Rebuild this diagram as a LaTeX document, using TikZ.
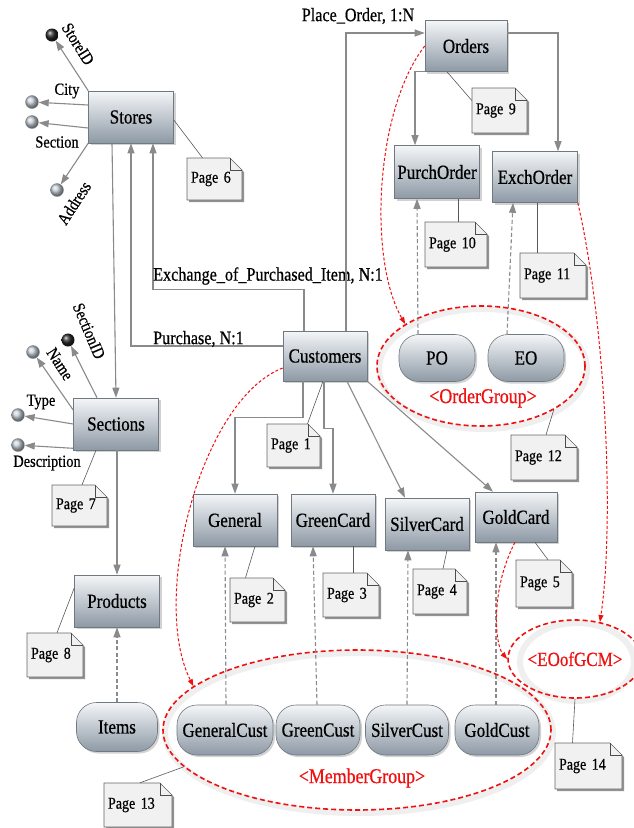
\documentclass[tikz,border=0pt]{standalone}
\usepackage{fontspec}
\setmainfont{Liberation Serif}[FakeStretch=0.85,FakeBold=0.6]
\usetikzlibrary{shapes.geometric,shadows,arrows.meta}
\definecolor{boxtop}{HTML}{F4F6F8}
\definecolor{boxbot}{HTML}{8D99A5}
\definecolor{boxline}{HTML}{707880}
\definecolor{conn}{HTML}{8A8A8A}
\definecolor{notefill}{HTML}{F1F1F1}
\definecolor{redc}{HTML}{F01010}
\definecolor{attrfill}{HTML}{C4CDD6}
\tikzset{
 ebox/.style={rectangle, draw=boxline, line width=0.6pt, top color=boxtop, bottom color=boxbot,
   minimum width=84pt, minimum height=52pt, inner sep=2pt, font=\fontsize{20}{22}\selectfont,
   drop shadow={opacity=0.35, shadow xshift=2pt, shadow yshift=-2pt}},
 pill/.style={ebox, rounded corners=20pt, minimum height=50pt},
 attrc/.style={circle, minimum size=13pt, inner sep=0pt, draw=conn, shading=ball, ball color=attrfill},
 attrd/.style={circle, minimum size=13pt, inner sep=0pt, shading=ball, ball color=black!85},
 cline/.style={draw=conn, line width=1.1pt},
 carr/.style={cline, -{Triangle[length=10pt,width=7pt]}},
 dcarr/.style={carr, dash pattern=on 4pt off 2.5pt},
 nline/.style={draw=black!65, line width=0.6pt},
 redell/.style={ellipse, draw=redc, line width=1.6pt, dash pattern=on 5pt off 3pt, inner sep=0pt},
 redarr/.style={draw=redc, line width=1pt, dash pattern=on 3pt off 2pt, -{Triangle[length=7pt,width=5pt]}},
 lbl/.style={font=\fontsize{19}{21}\selectfont, inner sep=0pt},
 albl/.style={font=\fontsize{17}{19}\selectfont, inner sep=0pt},
 rlbl/.style={text=redc, font=\fontsize{21}{23}\selectfont, inner sep=0pt},
 notetext/.style={rectangle, inner xsep=4pt, inner ysep=2pt, align=left, font=\fontsize{16.5}{18}\selectfont},
 ellshadow/.style={draw=black!10, line width=6pt, opacity=0.6}
}
\newcommand\pnote[6]{%
 \fill[black!60, opacity=0.7] ({#2-#4/2+2},{#3+#5/2+2}) -- ({#2-#4/2+2},{#3-#5/2+2}) -- ({#2+#4/2-12+2},{#3-#5/2+2}) -- ({#2+#4/2+2},{#3-#5/2+12+2}) -- ({#2+#4/2+2},{#3+#5/2+2}) -- cycle;
 \filldraw[fill=notefill, draw=black!60, line width=0.6pt] ({#2-#4/2},{#3+#5/2}) -- ({#2-#4/2},{#3-#5/2}) -- ({#2+#4/2-12},{#3-#5/2}) -- ({#2+#4/2},{#3-#5/2+12}) -- ({#2+#4/2},{#3+#5/2}) -- cycle;
 \draw[black!70, line width=0.6pt] ({#2+#4/2-12},{#3-#5/2}) -- ({#2+#4/2-12},{#3-#5/2+12}) -- ({#2+#4/2},{#3-#5/2+12});
 \pgfmathsetmacro\pnw{#4-8}%
 \node[notetext, minimum width=#4pt, minimum height=#5pt, text width=\pnw pt] (#1) at (#2,#3) {#6};
}
\begin{document}
\begin{tikzpicture}[x=1pt,y=-1pt]
\useasboundingbox (0,0) rectangle (633,828);
\fill[white] (0,0) rectangle (633,828);

% group ellipses with soft shadows
\draw[ellshadow] (483pt,-369pt) ellipse [x radius=104pt, y radius=60pt];
\draw[ellshadow] (359pt,-733pt) ellipse [x radius=194pt, y radius=80pt];
\draw[ellshadow] (577pt,-662pt) ellipse [x radius=57pt, y radius=39pt];
\node[redell, minimum width=208pt, minimum height=120pt] (og) at (481,366) {};
\node[redell, minimum width=388pt, minimum height=160pt] (mg) at (357,730) {};
\node[redell, minimum width=114pt, minimum height=78pt, rlbl, font=\fontsize{20}{22}\selectfont] (eg) at (575,659) {<EOofGCM>};
\node[rlbl] (oglbl) at (483,398) {<OrderGroup>};
\node[rlbl] (mglbl) at (362,778) {<MemberGroup>};

% entities
\node[ebox, minimum width=85pt] (stores) at (131,117) {Stores};
\node[ebox, minimum width=85pt] (sections) at (116,424) {Sections};
\node[ebox, minimum width=85pt] (products) at (117,601) {Products};
\node[ebox, minimum height=50pt] (customers) at (325,356) {Customers};
\node[ebox, minimum width=82pt, minimum height=51pt] (orders) at (466,46) {Orders};
\node[ebox, minimum width=85pt, minimum height=53pt] (purchorder) at (437,172) {PurchOrder};
\node[ebox, minimum width=85pt, minimum height=51pt] (exchorder) at (535,177) {ExchOrder};
\node[ebox] (general) at (235,520) {General};
\node[ebox] (greencard) at (333,520) {GreenCard};
\node[ebox] (silvercard) at (427,524) {SilverCard};
\node[ebox, minimum width=82pt, minimum height=50pt] (goldcard) at (516,517) {GoldCard};

% pills
\node[pill, minimum width=76pt, minimum height=47pt] (po) at (437,358) {PO};
\node[pill, minimum width=76pt, minimum height=47pt] (eo) at (526,358) {EO};
\node[pill, minimum width=81pt, minimum height=49pt] (items) at (117,727) {Items};
\node[pill, minimum width=96pt] (generalcust) at (225,730) {GeneralCust};
\node[pill, minimum width=84pt] (greencust) at (318,730) {GreenCust};
\node[pill, minimum width=83pt] (silvercust) at (407,730) {SilverCust};
\node[pill, minimum width=84pt] (goldcust) at (497,730) {GoldCust};

% attributes of Stores
\node[attrd] (storeid) at (52,35) {};
\node[attrc] (city) at (32,102) {};
\node[attrc] (section) at (32,122) {};
\node[attrc] (address) at (57,190) {};
\node[albl, rotate=-58] (lstoreid) at (78,44) {StoreID};
\node[albl] (lcity) at (67,91) {City};
\node[albl] (lsection) at (57,142) {Section};
\node[albl, rotate=57] (laddress) at (74,203) {Address};
\draw[carr] (stores.north west) -- (storeid);
\draw[carr] ([yshift=12pt]stores.west) -- (city);
\draw[carr] ([yshift=-11pt]stores.west) -- (section);
\draw[carr] (stores.south west) -- (address);

% attributes of Sections
\node[attrd] (sectionid) at (68,340) {};
\node[attrc] (name) at (33,352) {};
\node[attrc] (type) at (18,415) {};
\node[attrc] (description) at (18,445) {};
\node[albl, rotate=-67] (lsectionid) at (89,331) {SectionID};
\node[albl, rotate=-57] (lname) at (60,364) {Name};
\node[albl] (ltype) at (41,402) {Type};
\node[albl] (ldescription) at (47,463) {Description};
\draw[carr] ([xshift=-19pt]sections.north) -- (sectionid);
\draw[carr] ([yshift=14pt]sections.west) -- (name);
\draw[carr] (sections.west) -- (type);
\draw[carr] ([yshift=2pt]sections.south west) -- (description);

% notes
\pnote{n6}{214.5}{179}{55}{42}{Page 6}
\pnote{n9}{499.5}{110.5}{55}{45}{Page 9}
\pnote{n10}{456}{244.5}{62}{45}{Page 10}
\pnote{n11}{553}{275.5}{66}{45}{Page 11}
\pnote{n12}{544}{457.5}{66}{45}{Page 12}
\pnote{n7}{79.5}{505.5}{55}{41}{Page 7}
\pnote{n8}{55}{655}{56}{44}{Page 8}
\pnote{n13}{138}{805}{68}{44}{Page 13}
\pnote{n2}{257.5}{600}{55}{44}{Page 2}
\pnote{n3}{351}{595}{56}{44}{Page 3}
\pnote{n4}{440}{591.5}{54}{45}{Page 4}
\pnote{n5}{544}{583.5}{56}{47}{Page 5}
\pnote{n14}{588.5}{766}{67}{46}{Page 14}
\pnote{n1}{293.5}{445.5}{53}{43}{Page 1}

% note links
\draw[nline] ([yshift=-3pt]stores.east) -- ([xshift=-12pt]n6.north);
\draw[nline] ([xshift=-19pt]orders.south) -- ([yshift=10pt]n9.west);
\draw[nline] ([xshift=21pt]purchorder.south) -- ([xshift=2pt]n10.north);
\draw[nline] ([xshift=2pt]exchorder.south) -- ([xshift=-16pt]n11.north);
\draw[nline] (og.-31) -- ([xshift=2pt]n12.north);
\draw[nline] ([xshift=-20pt]sections.south) -- ([xshift=2.5pt]n7.north);
\draw[nline] ([yshift=13pt]products.west) -- ([xshift=2pt]n8.north);
\draw[nline] (mg.192) -- ([xshift=2pt]n13.north);
\draw[nline] ([xshift=20pt]general.south) -- ([xshift=-12pt]n2.north);
\draw[nline] ([xshift=20pt]greencard.south) -- ([xshift=2pt]n3.north);
\draw[nline] ([xshift=20pt]silvercard.south) -- ([xshift=3pt]n4.north);
\draw[nline] ([xshift=19pt]goldcard.south) -- ([xshift=4pt]n5.north);
\draw[nline] (eg.south) -- ([xshift=-16pt]n14.north);
\draw[nline] ([xshift=-2pt]customers.south) -- ([xshift=14pt]n1.north);

% relationships
\draw[carr] ([xshift=-19pt]stores.south) -- (sections.north);
\draw[carr] ([xshift=1pt]sections.south) -- (products.north);
\draw[dcarr] (items.north) -- (products.south);
\draw[carr] ([yshift=10pt]customers.west) -| (stores.south);
\node[lbl, anchor=west] (lpurchase) at (153,339) {Purchase, N:1};
\draw[carr] ([xshift=-21pt]customers.north) -- ++(0,-41) -| ([xshift=22pt]stores.south);
\node[lbl, anchor=west] (lexchange) at (153,276) {Exchange\_of\_Purchased\_Item, N:1};
\draw[carr] ([xshift=21pt]customers.north) |- ([yshift=13pt]orders.west);
\node[lbl] (lplace) at (358,16) {Place\_Order, 1:N};
\draw[carr] (orders.south west) -| ([xshift=-22pt]purchorder.north);
\draw[carr] ([yshift=13pt]orders.east) -| ([xshift=23pt]exchorder.north);
\draw[dcarr] ([xshift=-19pt]po.north) -- ([xshift=-20pt]purchorder.south);
\draw[dcarr] ([xshift=-19pt]eo.north) -- ([xshift=-22pt]exchorder.south);
\draw[carr] ([xshift=-22pt]customers.south) -- ++(0,36) -| (general.north);
\draw[carr] ([xshift=-1pt]customers.south) -- ++(0,47) -| (greencard.north);
\draw[carr] ([xshift=22pt]customers.south) -- ([xshift=-22pt]silvercard.north);
\draw[carr] (customers.south east) -- ([xshift=-23pt]goldcard.north);
\draw[dcarr] ([xshift=1pt]generalcust.north) -- ([xshift=-10pt]general.south);
\draw[dcarr] ([xshift=-1pt]greencust.north) -- ([xshift=-20pt]greencard.south);
\draw[dcarr] (silvercust.north) -- ([xshift=-19pt]silvercard.south);
\draw[dcarr] ([xshift=-1pt]goldcust.north) -- ([xshift=-20pt]goldcard.south);

% red group links
\draw[redarr] (orders.west) .. controls (375,110) and (368,260) .. (og.151);
\draw[redarr] (exchorder.south east) .. controls (605,320) and (615,520) .. (eg.56);
\draw[redarr] ([xshift=-1pt]goldcard.south) .. controls (490,590) and (495,645) .. (eg.west);
\draw[redarr] ([yshift=-12pt]customers.west) .. controls (200,400) and (150,600) .. (mg.165);
\end{tikzpicture}
\end{document}
